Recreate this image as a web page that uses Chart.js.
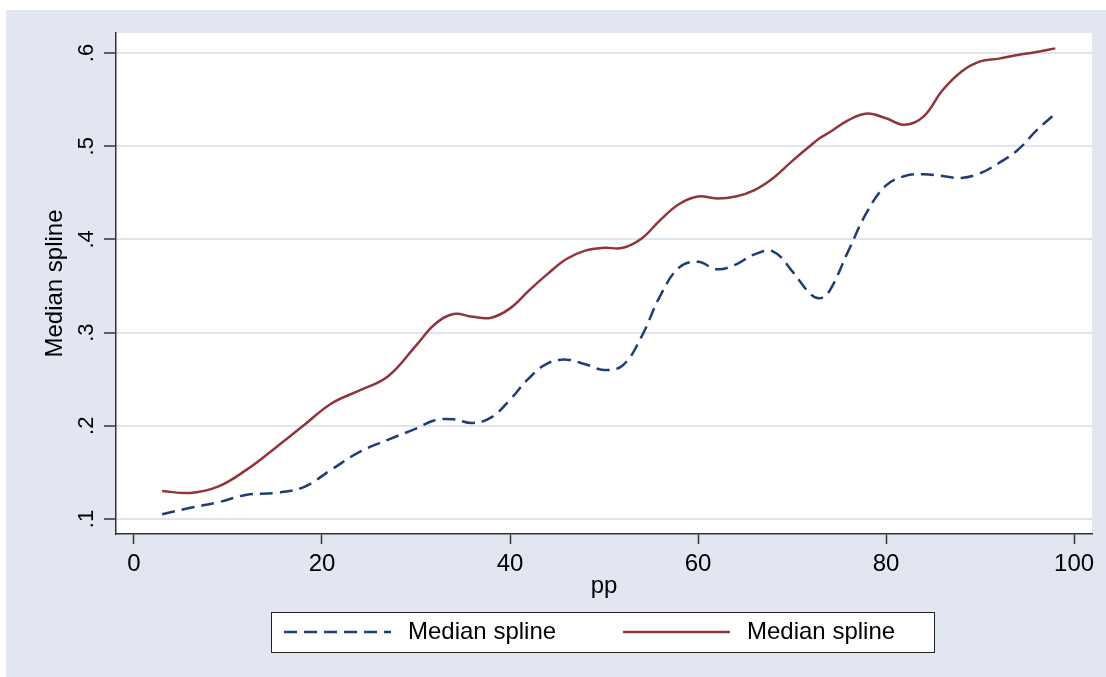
<!DOCTYPE html>
<html>
<head>
<meta charset="utf-8">
<script src="https://cdn.jsdelivr.net/npm/chart.js@4.4.1/dist/chart.umd.min.js"></script>
<style>
  html, body { margin: 0; padding: 0; background: #fff; }
  #frame { position: absolute; left: 6px; top: 10px; width: 1100px; height: 667px; background: #e1e6f0; }
</style>
</head>
<body>
<div id="frame"><canvas id="chart" width="1100" height="667"></canvas></div>
<script>
// values
const pp = [3, 6, 9, 12, 15, 18, 21, 24, 27, 30, 32, 34, 36, 38, 40, 42, 44, 46, 48, 50, 52, 54, 56, 58, 60,
            62, 64, 66, 68, 70, 72, 73, 74, 76, 78, 80, 82, 84, 86, 88, 90, 92, 94, 96, 98];
const medianDashed = [0.105, 0.112, 0.118, 0.126, 0.128, 0.134, 0.153, 0.172, 0.185, 0.197, 0.206, 0.207, 0.203,
                      0.209, 0.228, 0.251, 0.267, 0.271, 0.266, 0.260, 0.265, 0.296, 0.340, 0.370, 0.376, 0.368,
                      0.373, 0.384, 0.387, 0.366, 0.341, 0.337, 0.345, 0.388, 0.430, 0.458, 0.468, 0.470, 0.468,
                      0.466, 0.471, 0.482, 0.496, 0.517, 0.535];
const medianSolid = [0.130, 0.128, 0.135, 0.153, 0.176, 0.200, 0.224, 0.238, 0.253, 0.286, 0.309, 0.320, 0.317,
                     0.316, 0.326, 0.345, 0.363, 0.379, 0.388, 0.391, 0.391, 0.401, 0.421, 0.438, 0.446, 0.444,
                     0.446, 0.453, 0.466, 0.484, 0.501, 0.509, 0.515, 0.528, 0.535, 0.530, 0.523, 0.532, 0.560,
                     0.580, 0.591, 0.594, 0.598, 0.601, 0.605];
const seriesLabels = ['Median spline', 'Median spline'];
const xTicks = [0, 20, 40, 60, 80, 100];
const yTicks = [0.1, 0.2, 0.3, 0.4, 0.5, 0.6];
const yTickLabels = ['.1', '.2', '.3', '.4', '.5', '.6'];

const FONT = '"Liberation Sans", Arial, sans-serif';
const INK = '#333';

const toPoints = (ys) => pp.map((x, i) => ({ x: x, y: ys[i] }));

// white plot region
const plotBackground = {
    id: 'plotBackground',
    beforeDraw(chart) {
        const { ctx, chartArea } = chart;
        ctx.save();
        ctx.fillStyle = '#fff';
        ctx.fillRect(chartArea.left, chartArea.top, chartArea.right - chartArea.left, chartArea.bottom - chartArea.top);
        ctx.restore();
    }
};

// boxed legend under the x axis title
const boxedLegend = {
    id: 'boxedLegend',
    afterDraw(chart) {
        const { ctx, chartArea } = chart;
        const cx = (chartArea.left + chartArea.right) / 2;
        const w = 663, h = 40;
        const left = Math.round(cx - w / 2) - 2;
        const top = Math.round(chart.scales.x.bottom);
        const midY = top + h / 2;
        const offsets = [13, 352];

        ctx.save();
        ctx.fillStyle = '#fff';
        ctx.fillRect(left, top, w, h);
        ctx.strokeStyle = '#222';
        ctx.lineWidth = 1;
        ctx.strokeRect(left + 0.5, top + 0.5, w, h);

        chart.data.datasets.forEach((ds, i) => {
            const x0 = left + offsets[i];
            ctx.beginPath();
            ctx.setLineDash(ds.borderDash || []);
            ctx.strokeStyle = ds.borderColor;
            ctx.lineWidth = ds.borderWidth;
            ctx.moveTo(x0, midY);
            ctx.lineTo(x0 + 107, midY);
            ctx.stroke();
            ctx.setLineDash([]);
            ctx.fillStyle = '#000';
            ctx.font = '24px ' + FONT;
            ctx.textAlign = 'left';
            ctx.textBaseline = 'middle';
            ctx.fillText(ds.label, x0 + 124, midY);
        });
        ctx.restore();
    }
};

new Chart(document.getElementById('chart'), {
    type: 'line',
    data: {
        datasets: [{
            label: seriesLabels[0],
            data: toPoints(medianDashed),
            borderColor: '#1f3f73',
            borderWidth: 2.5,
            borderDash: [13, 7],
            pointRadius: 0,
            tension: 0.4,
            fill: false
        }, {
            label: seriesLabels[1],
            data: toPoints(medianSolid),
            borderColor: '#90353b',
            borderWidth: 2.5,
            pointRadius: 0,
            tension: 0.4,
            fill: false
        }]
    },
    options: {
        responsive: false,
        animation: false,
        layout: { padding: { top: 23, right: 14, bottom: 65, left: 0 } },
        plugins: {
            legend: { display: false },
            tooltip: { enabled: false }
        },
        scales: {
            x: {
                type: 'linear',
                min: -1.91,
                max: 101.9,
                afterBuildTicks: (scale) => { scale.ticks = xTicks.map(v => ({ value: v })); },
                afterFit: (scale) => { scale.height = 78; },
                ticks: {
                    color: '#000',
                    font: { family: FONT, size: 24 },
                    padding: 6,
                    maxRotation: 0,
                    callback: (v) => String(v)
                },
                grid: {
                    drawOnChartArea: false,
                    tickLength: 10,
                    tickColor: INK,
                    tickWidth: 1.5
                },
                border: { color: INK, width: 1.5 },
                title: {
                    display: true,
                    text: 'pp',
                    color: '#000',
                    font: { family: FONT, size: 24 },
                    padding: { top: 0, bottom: 11 }
                }
            },
            y: {
                type: 'linear',
                min: 0.0839,
                max: 0.6215,
                afterBuildTicks: (scale) => { scale.ticks = yTicks.map(v => ({ value: v })); },
                afterFit: (scale) => { scale.width = 110; },
                ticks: {
                    color: '#000',
                    font: { family: FONT, size: 22 },
                    minRotation: 90,
                    maxRotation: 90,
                    crossAlign: 'center',
                    padding: 8,
                    callback: (v) => {
                        const i = yTicks.findIndex(t => Math.abs(t - v) < 1e-9);
                        return i >= 0 ? yTickLabels[i] : '';
                    }
                },
                grid: {
                    color: '#dfe4ee',
                    lineWidth: 2,
                    tickLength: 12,
                    tickColor: INK,
                    tickWidth: 1.5
                },
                border: { color: INK, width: 1.5 },
                title: {
                    display: true,
                    text: 'Median spline',
                    color: '#000',
                    font: { family: FONT, size: 24 },
                    padding: { top: 35, bottom: 0 }
                }
            }
        }
    },
    plugins: [plotBackground, boxedLegend]
});
</script>
</body>
</html>
